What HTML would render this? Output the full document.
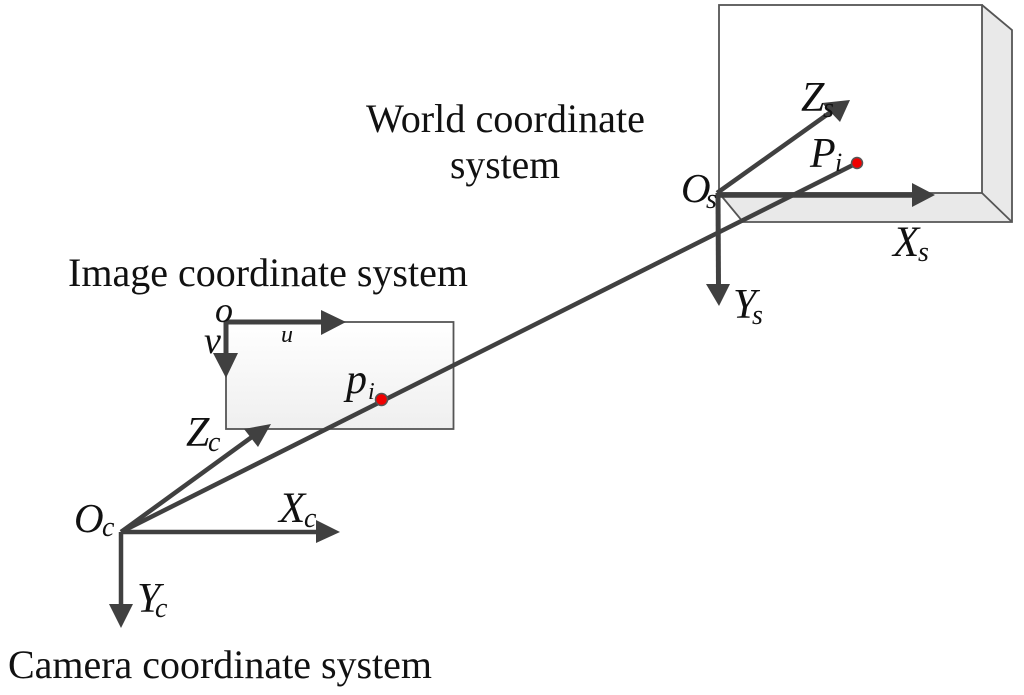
<!DOCTYPE html>
<html>
<head>
<meta charset="utf-8">
<style>
html,body{margin:0;padding:0;background:#fff;width:1024px;height:695px;overflow:hidden}
svg{display:block}
text{font-family:"Liberation Serif",serif;fill:#111}
.i{font-style:italic}
</style>
</head>
<body>
<svg width="1024" height="695" viewBox="0 0 1024 695" xmlns="http://www.w3.org/2000/svg">
<defs>
<linearGradient id="g" x1="0" y1="0" x2="0" y2="1">
<stop offset="0" stop-color="#ffffff"/>
<stop offset="1" stop-color="#efefef"/>
</linearGradient>
</defs>

<!-- World box -->
<polygon points="982,5 1012,30 1012,222 982,193" fill="#e9e9e9"/>
<polygon points="719,193 982,193 1012,222 743,222" fill="#e9e9e9"/>
<g fill="none" stroke="#555" stroke-width="1.800">
<rect x="719" y="5" width="263" height="188"/>
<path d="M982,5 L1012,30 L1012,222 L743,222 L719,193"/>
<path d="M982,193 L1012,222"/>
</g>

<!-- Image plane -->
<rect x="226" y="322" width="227.500" height="107" fill="url(#g)" stroke="#555" stroke-width="1.800"/>

<!-- Lines -->
<g stroke="#404040" fill="none">
<line x1="121" y1="532" x2="857" y2="163" stroke-width="4.500"/>
<line x1="121" y1="532" x2="256" y2="434" stroke-width="4.500"/>
<line x1="121" y1="532" x2="320" y2="532" stroke-width="4.500"/>
<line x1="121" y1="532" x2="121" y2="610" stroke-width="4.500"/>
<line x1="226" y1="322" x2="328" y2="322" stroke-width="5"/>
<line x1="226" y1="322" x2="226" y2="360" stroke-width="5"/>
<line x1="717" y1="193" x2="835" y2="109" stroke-width="4.500"/>
<line x1="717" y1="195" x2="915" y2="195" stroke-width="5.500"/>
<line x1="718" y1="193" x2="718.500" y2="288" stroke-width="5"/>
</g>

<!-- Arrowheads -->
<g fill="#404040">
<polygon points="271,424 244,429 258,447"/>
<polygon points="340,532 316,520 316,543"/>
<polygon points="121,628 109,604 133,604"/>
<polygon points="346,322 321,310 321,335"/>
<polygon points="226,378 213,353 238,353"/>
<polygon points="850,100 822,103 840,122"/>
<polygon points="935,195 912,183 912,207"/>
<polygon points="719,306 706,284 730,284"/>
</g>

<!-- Red points -->
<circle cx="381.500" cy="399.500" r="6" fill="#f00000" stroke="#555" stroke-width="1.500"/>
<circle cx="857" cy="163" r="5.500" fill="#f00000" stroke="#555" stroke-width="1.500"/>

<!-- Titles -->
<text x="366" y="132" font-size="40" textLength="279" lengthAdjust="spacingAndGlyphs">World coordinate</text>
<text x="450" y="178" font-size="40" textLength="110" lengthAdjust="spacingAndGlyphs">system</text>
<text x="68" y="286" font-size="40" textLength="400" lengthAdjust="spacingAndGlyphs">Image coordinate system</text>
<text x="8" y="678" font-size="40" textLength="424" lengthAdjust="spacingAndGlyphs">Camera coordinate system</text>

<!-- World labels -->
<text class="i" x="801" y="111" font-size="42">Z</text>
<text class="i" x="823" y="117" font-size="28">s</text>
<text class="i" x="810" y="167" font-size="42">P</text>
<text class="i" x="835" y="171" font-size="26">i</text>
<text class="i" x="681" y="202" font-size="41">O</text>
<text class="i" x="706" y="208" font-size="28">s</text>
<text class="i" x="893" y="256" font-size="43">X</text>
<text class="i" x="918" y="261" font-size="28">s</text>
<text class="i" x="733" y="318" font-size="42">Y</text>
<text class="i" x="752" y="324" font-size="28">s</text>

<!-- Image labels -->
<text class="i" x="215" y="322" font-size="36">o</text>
<text class="i" x="204" y="353" font-size="38">v</text>
<text class="i" x="281" y="342" font-size="24">u</text>
<text class="i" x="346" y="393" font-size="42">p</text>
<text class="i" x="368" y="399" font-size="24">i</text>

<!-- Camera labels -->
<text class="i" x="186" y="446" font-size="42">Z</text>
<text class="i" x="208" y="451" font-size="28">c</text>
<text class="i" x="74" y="532" font-size="41">O</text>
<text class="i" x="102" y="536" font-size="28">c</text>
<text class="i" x="279" y="522" font-size="43">X</text>
<text class="i" x="304" y="527" font-size="28">c</text>
<text class="i" x="137" y="612" font-size="42">Y</text>
<text class="i" x="155" y="617" font-size="28">c</text>
</svg>
</body>
</html>
